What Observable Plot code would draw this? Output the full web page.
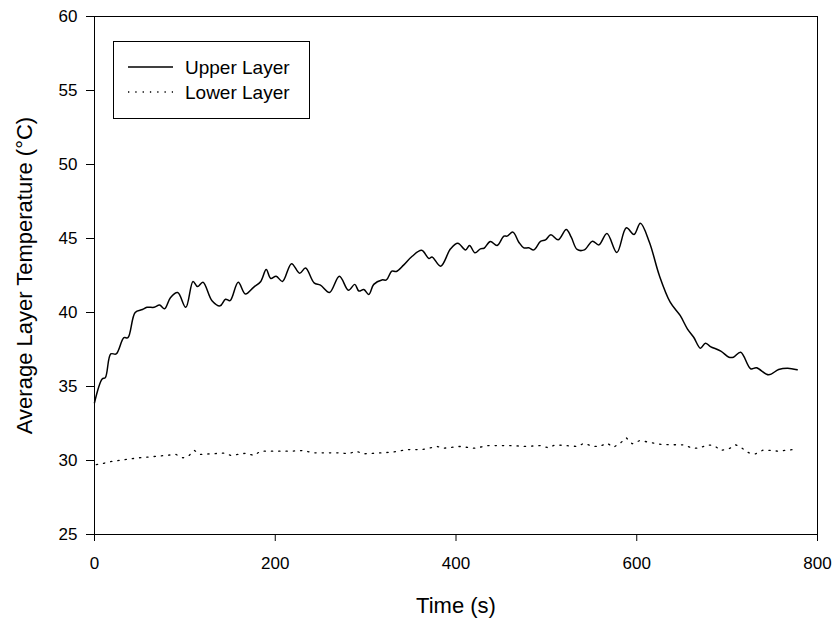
<!DOCTYPE html>
<html>
<head>
<meta charset="utf-8">
<script src="https://cdn.jsdelivr.net/npm/d3@7"></script>
<script src="https://cdn.jsdelivr.net/npm/@observablehq/plot@0.6"></script>
<style>
  html, body { margin: 0; padding: 0; background: #fff; }
  #wrap { position: relative; width: 836px; height: 624px; font-family: "Liberation Sans", Arial, sans-serif; }
  #legend { position: absolute; left: 0; top: 0; pointer-events: none; }
</style>
</head>
<body>
<div id="wrap"></div>
<script>
// ---- data ----
const upperTime = [0, 8.5, 12, 18, 24, 32.5, 37, 45, 53, 58,
  66, 72, 77.5, 84, 92, 101, 109, 114, 120, 130,
  139, 145, 150, 159, 167, 176, 184, 190, 195, 201,
  208, 218, 227, 233.5, 243, 250, 260, 271, 281, 288,
  292.5, 298, 303.5, 309, 318, 323, 329, 334, 342, 351.5,
  362, 370, 373.5, 383, 394, 402, 410.5, 415, 421, 427,
  431, 438, 445.5, 453, 456.5, 463, 469.5, 475, 480.5, 486,
  493.5, 499, 505, 513, 522, 527.5, 534, 542, 551, 558,
  567, 578, 588.5, 597, 604, 614, 625, 637, 648, 656,
  663, 670.5, 676, 681.5, 693, 702, 707, 715, 726, 732.5,
  746, 757, 767, 777.5];
const upperTemp = [33.9, 35.5, 35.6, 37.2, 37.2, 38.3, 38.3, 40.0, 40.2, 40.35,
  40.35, 40.5, 40.25, 41.0, 41.35, 40.35, 42.1, 41.75, 42.05, 40.8,
  40.45, 40.9, 40.8, 42.05, 41.25, 41.7, 42.1, 42.9, 42.3, 42.45,
  42.1, 43.3, 42.65, 43.0, 42.0, 41.85, 41.35, 42.45, 41.5, 41.9,
  41.45, 41.55, 41.22, 41.9, 42.2, 42.2, 42.8, 42.77, 43.2, 43.8,
  44.2, 43.65, 43.75, 43.13, 44.3, 44.68, 44.23, 44.53, 44.03, 44.3,
  44.34, 44.8, 44.53, 45.16, 45.16, 45.43, 44.75, 44.37, 44.37, 44.23,
  44.8, 44.91, 45.25, 44.91, 45.61, 45.09, 44.26, 44.23, 44.82, 44.57,
  45.34, 44.05, 45.72, 45.27, 46.03, 44.75, 42.5, 40.7, 39.8, 38.9,
  38.33, 37.59, 37.93, 37.7, 37.39, 36.98, 36.98, 37.32, 36.2, 36.26,
  35.79, 36.15, 36.24, 36.13];

const lowerTime = [2, 8, 18, 32, 49, 66, 90, 98, 104, 110.5, 117,
  143, 151, 168, 176, 184, 217, 231.5, 241, 272, 281,
  289.5, 298, 329, 346, 362.5, 379, 386.5, 404, 420, 436,
  460, 477, 493.5, 502, 510, 534, 542, 551, 559, 567,
  574.5, 582, 588.5, 595, 603.5, 611.5, 628, 645, 652, 661.5,
  669, 678, 685.5, 693, 702, 709.5, 716.5, 724, 731.5, 740.5,
  756.5, 773];
const lowerTemp = [29.72, 29.78, 29.93, 30.05, 30.18, 30.27, 30.41, 30.18, 30.3, 30.68, 30.41,
  30.5, 30.34, 30.5, 30.34, 30.63, 30.63, 30.68, 30.52, 30.52, 30.45,
  30.63, 30.45, 30.56, 30.74, 30.74, 30.95, 30.83, 30.95, 30.83, 31.01,
  31.01, 30.95, 31.01, 30.86, 31.06, 30.95, 31.17, 30.95, 30.95, 31.17,
  30.9, 31.19, 31.53, 31.13, 31.35, 31.26, 31.08, 31.06, 31.06, 30.83,
  30.83, 31.06, 31.01, 30.68, 30.79, 31.06, 30.83, 30.52, 30.45, 30.72,
  30.63, 30.74];

const xTicks = [0, 200, 400, 600, 800];
const yTicks = [25, 30, 35, 40, 45, 50, 55, 60];
const seriesNames = ["Upper Layer", "Lower Layer"];
const xTitle = "Time (s)";
const yTitle = "Average Layer Temperature (°C)";

const upper = upperTime.map((t, i) => ({t, v: upperTemp[i]}));
const lower = lowerTime.map((t, i) => ({t, v: lowerTemp[i]}));

const chart = Plot.plot({
  width: 836,
  height: 624,
  marginLeft: 94,
  marginRight: 19,
  marginTop: 16,
  marginBottom: 90,
  style: {fontFamily: "'Liberation Sans', Arial, sans-serif", fontSize: "17px", background: "white", color: "black", overflow: "visible"},
  x: {domain: [0, 800]},
  y: {domain: [25, 60]},
  marks: [
    Plot.frame({stroke: "black", strokeWidth: 1}),
    Plot.axisX({ticks: xTicks, tickSize: 7, tickPadding: 15, fontSize: 17, label: null, tickFormat: d => String(d)}),
    Plot.axisY({ticks: yTicks, tickSize: 8, tickPadding: 9, fontSize: 17, label: null, tickFormat: d => String(d)}),
    Plot.text([xTitle], {frameAnchor: "bottom", dy: 71, fontSize: 22, lineAnchor: "middle", fill: "black"}),
    Plot.text([yTitle], {frameAnchor: "left", dx: -70, rotate: -90, fontSize: 22, lineAnchor: "middle", textAnchor: "middle", fill: "black"}),
    Plot.line(upper, {x: "t", y: "v", curve: "catmull-rom", stroke: "black", strokeWidth: 1.5}),
    Plot.line(lower, {x: "t", y: "v", stroke: "black", strokeWidth: 1.3, strokeDasharray: "1.3,6"})
  ]
});
const wrap = document.getElementById("wrap");
wrap.appendChild(chart);

// legend overlay
const ns = "http://www.w3.org/2000/svg";
const lg = document.createElementNS(ns, "svg");
lg.setAttribute("id", "legend");
lg.setAttribute("width", 836);
lg.setAttribute("height", 624);
const box = document.createElementNS(ns, "rect");
box.setAttribute("x", 113.5); box.setAttribute("y", 41.5);
box.setAttribute("width", 196); box.setAttribute("height", 77);
box.setAttribute("fill", "white"); box.setAttribute("stroke", "black");
lg.appendChild(box);
const styles = [{dash: null, w: 1.5}, {dash: "1.3,6", w: 1.3}];
seriesNames.forEach((name, i) => {
  const y = 67 + i * 25;
  const ln = document.createElementNS(ns, "line");
  ln.setAttribute("x1", 128); ln.setAttribute("x2", 173);
  ln.setAttribute("y1", y); ln.setAttribute("y2", y);
  ln.setAttribute("stroke", "black");
  ln.setAttribute("stroke-width", styles[i].w);
  if (styles[i].dash) ln.setAttribute("stroke-dasharray", styles[i].dash);
  lg.appendChild(ln);
  const tx = document.createElementNS(ns, "text");
  tx.setAttribute("x", 185); tx.setAttribute("y", y);
  tx.setAttribute("dy", "0.35em");
  tx.setAttribute("font-size", 19);
  tx.setAttribute("font-family", "'Liberation Sans', Arial, sans-serif");
  tx.textContent = name;
  lg.appendChild(tx);
});
wrap.appendChild(lg);
</script>
</body>
</html>
